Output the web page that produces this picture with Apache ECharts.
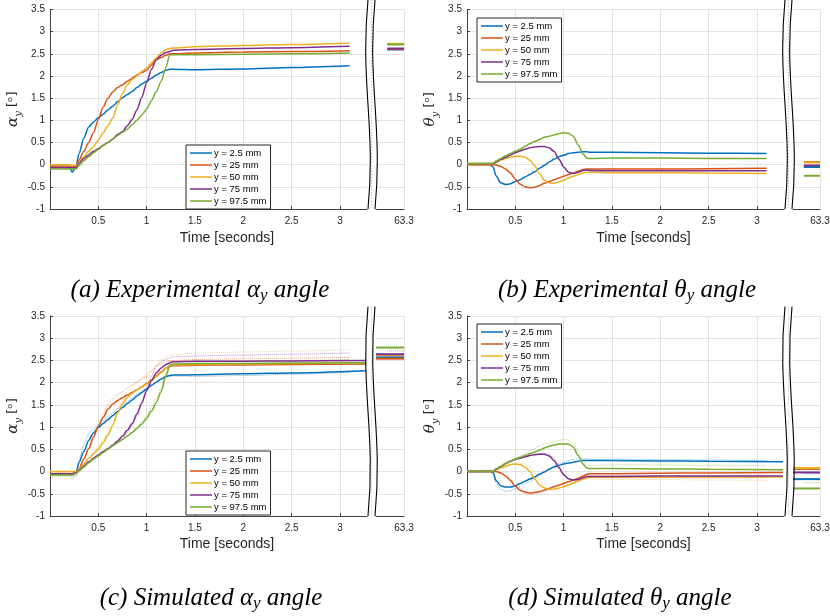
<!DOCTYPE html>
<html>
<head>
<meta charset="utf-8">
<script src="https://cdn.jsdelivr.net/npm/echarts@6/dist/echarts.min.js"></script>
<style>
  html, body { margin: 0; padding: 0; background: #fff; }
  #chart { width: 830px; height: 616px; }
</style>
</head>
<body>
<div id="chart"></div>
<script>
// line colours (MATLAB default order) and legend names
const COLORS = ['#0072BD', '#D95319', '#EDB120', '#7E2F8E', '#77AC30'];
const NAMES = ['y = 2.5 mm', 'y = 25 mm', 'y = 50 mm', 'y = 75 mm', 'y = 97.5 mm'];

// sample times [s]
const tExp = [0, 0.2, 0.23, 0.27, 0.3, 0.35, 0.4, 0.45, 0.5, 0.55, 0.6, 0.65, 0.7, 0.75, 0.8, 0.85, 0.9, 0.95, 1.0, 1.05, 1.1, 1.15, 1.2, 1.24, 1.27, 1.5, 2.0, 2.5, 3.1];
const tSim = [0, 0.2, 0.23, 0.27, 0.3, 0.35, 0.4, 0.45, 0.5, 0.55, 0.6, 0.65, 0.7, 0.75, 0.8, 0.85, 0.9, 0.95, 1.0, 1.05, 1.1, 1.15, 1.2, 1.24, 1.27, 1.5, 2.0, 2.5, 3.27];
// times of the part after the axis break
const tEndExp = [63.12, 63.3];
const tEndSim = [63.0, 63.3];

// (a) experimental alpha_y
const expAlpha2_5 = [-0.05, -0.06, -0.17, -0.02, 0.25, 0.6, 0.85, 0.96, 1.06, 1.14, 1.24, 1.32, 1.42, 1.51, 1.58, 1.65, 1.74, 1.82, 1.88, 1.95, 2.02, 2.08, 2.13, 2.15, 2.15, 2.14, 2.16, 2.19, 2.23];
const expAlpha25 = [-0.03, -0.03, -0.05, -0.03, 0.1, 0.3, 0.5, 0.72, 1.02, 1.3, 1.5, 1.64, 1.74, 1.8, 1.88, 1.95, 2.02, 2.08, 2.13, 2.25, 2.36, 2.42, 2.47, 2.5, 2.5, 2.52, 2.54, 2.55, 2.57];
const expAlpha50 = [0, 0, 0, -0.02, 0.05, 0.18, 0.3, 0.41, 0.55, 0.72, 0.88, 1.05, 1.35, 1.6, 1.8, 1.92, 2.0, 2.1, 2.18, 2.3, 2.41, 2.52, 2.6, 2.62, 2.63, 2.66, 2.69, 2.71, 2.74];
const expAlpha75 = [-0.07, -0.07, -0.07, -0.07, 0.03, 0.14, 0.22, 0.3, 0.36, 0.44, 0.5, 0.58, 0.68, 0.75, 0.88, 1.02, 1.24, 1.52, 1.85, 2.15, 2.37, 2.47, 2.53, 2.55, 2.58, 2.6, 2.62, 2.64, 2.67];
const expAlpha97_5 = [-0.1, -0.1, -0.1, -0.1, -0.02, 0.09, 0.18, 0.27, 0.34, 0.43, 0.5, 0.58, 0.66, 0.73, 0.8, 0.9, 1.0, 1.12, 1.25, 1.45, 1.65, 1.88, 2.2, 2.48, 2.48, 2.48, 2.49, 2.5, 2.52];
const expAlphaEnd = [2.60, 2.61, 2.73, 2.62, 2.71];

// (b) experimental theta_y
const expTheta2_5 = [0, 0, 0, -0.05, -0.25, -0.41, -0.45, -0.43, -0.38, -0.34, -0.28, -0.22, -0.16, -0.08, -0.02, 0.06, 0.12, 0.18, 0.21, 0.25, 0.27, 0.28, 0.29, 0.29, 0.28, 0.28, 0.27, 0.26, 0.25];
const expTheta25 = [0, 0, 0, 0, -0.01, -0.04, -0.1, -0.19, -0.33, -0.44, -0.5, -0.52, -0.51, -0.47, -0.42, -0.38, -0.34, -0.3, -0.26, -0.22, -0.19, -0.15, -0.11, -0.1, -0.1, -0.1, -0.1, -0.09, -0.08];
const expTheta50 = [0, 0, 0, 0.02, 0.05, 0.1, 0.14, 0.17, 0.19, 0.19, 0.17, 0.1, -0.02, -0.2, -0.35, -0.41, -0.42, -0.39, -0.35, -0.3, -0.26, -0.22, -0.19, -0.17, -0.17, -0.18, -0.18, -0.19, -0.2];
const expTheta75 = [0.02, 0.02, 0.02, 0.02, 0.06, 0.12, 0.17, 0.22, 0.27, 0.31, 0.35, 0.38, 0.4, 0.41, 0.41, 0.38, 0.3, 0.13, -0.05, -0.17, -0.2, -0.17, -0.13, -0.12, -0.13, -0.14, -0.14, -0.14, -0.14];
const expTheta97_5 = [0.03, 0.03, 0.03, 0.03, 0.08, 0.14, 0.2, 0.25, 0.3, 0.35, 0.41, 0.47, 0.52, 0.57, 0.62, 0.64, 0.67, 0.7, 0.72, 0.71, 0.64, 0.45, 0.24, 0.15, 0.14, 0.15, 0.15, 0.14, 0.14];
const expThetaEnd = [-0.05, 0.06, 0.05, -0.02, -0.25];

// (c) simulated alpha_y
const simAlpha2_5 = [-0.05, -0.05, -0.05, -0.02, 0.2, 0.45, 0.7, 0.87, 0.99, 1.08, 1.17, 1.26, 1.35, 1.44, 1.53, 1.61, 1.7, 1.78, 1.86, 1.94, 2.01, 2.08, 2.14, 2.16, 2.17, 2.18, 2.2, 2.22, 2.27];
const simAlpha25 = [-0.05, -0.05, -0.05, -0.03, 0.05, 0.28, 0.52, 0.78, 1.02, 1.22, 1.4, 1.52, 1.6, 1.66, 1.72, 1.78, 1.84, 1.91, 1.98, 2.06, 2.15, 2.24, 2.33, 2.37, 2.38, 2.39, 2.4, 2.41, 2.42];
const simAlpha50 = [0, 0, 0, 0, 0.05, 0.17, 0.3, 0.4, 0.5, 0.65, 0.82, 1.05, 1.32, 1.52, 1.67, 1.76, 1.84, 1.9, 1.97, 2.05, 2.14, 2.23, 2.32, 2.38, 2.4, 2.41, 2.42, 2.43, 2.45];
const simAlpha75 = [-0.05, -0.05, -0.05, -0.03, 0.03, 0.12, 0.22, 0.3, 0.37, 0.45, 0.52, 0.6, 0.69, 0.8, 0.93, 1.08, 1.3, 1.55, 1.82, 2.05, 2.22, 2.33, 2.41, 2.45, 2.47, 2.48, 2.48, 2.49, 2.5];
const simAlpha97_5 = [-0.08, -0.08, -0.08, -0.04, 0.02, 0.1, 0.2, 0.28, 0.35, 0.43, 0.5, 0.58, 0.65, 0.72, 0.8, 0.88, 0.97, 1.07, 1.2, 1.36, 1.55, 1.8, 2.15, 2.4, 2.42, 2.43, 2.43, 2.44, 2.45];
const simAlphaEnd = [2.57, 2.54, 2.62, 2.64, 2.79];

// (d) simulated theta_y
const simTheta2_5 = [0, 0, 0.02, -0.02, -0.2, -0.32, -0.35, -0.35, -0.32, -0.27, -0.22, -0.17, -0.12, -0.06, -0.01, 0.05, 0.1, 0.14, 0.17, 0.19, 0.21, 0.23, 0.25, 0.25, 0.25, 0.25, 0.24, 0.23, 0.22];
const simTheta25 = [0, 0, 0, 0, 0, -0.03, -0.1, -0.2, -0.33, -0.42, -0.46, -0.48, -0.47, -0.45, -0.42, -0.38, -0.34, -0.31, -0.27, -0.23, -0.19, -0.15, -0.1, -0.06, -0.05, -0.05, -0.04, -0.03, -0.02];
const simTheta50 = [0, 0, 0, 0, 0.04, 0.08, 0.12, 0.16, 0.17, 0.16, 0.1, 0, -0.16, -0.3, -0.37, -0.4, -0.39, -0.37, -0.34, -0.3, -0.26, -0.21, -0.17, -0.14, -0.13, -0.13, -0.13, -0.12, -0.12];
const simTheta75 = [0, 0, 0, 0, 0.05, 0.11, 0.18, 0.23, 0.27, 0.3, 0.33, 0.36, 0.38, 0.39, 0.39, 0.35, 0.25, 0.09, -0.07, -0.16, -0.19, -0.18, -0.14, -0.11, -0.11, -0.11, -0.1, -0.1, -0.1];
const simTheta97_5 = [0, 0, 0, 0, 0.05, 0.11, 0.18, 0.23, 0.28, 0.32, 0.36, 0.4, 0.44, 0.48, 0.53, 0.57, 0.6, 0.62, 0.62, 0.62, 0.55, 0.36, 0.17, 0.08, 0.07, 0.07, 0.06, 0.05, 0.04];
const simThetaEnd = [-0.17, 0.06, 0.08, -0.02, -0.38];

const expAlpha = [expAlpha2_5, expAlpha25, expAlpha50, expAlpha75, expAlpha97_5];
const expTheta = [expTheta2_5, expTheta25, expTheta50, expTheta75, expTheta97_5];
const simAlpha = [simAlpha2_5, simAlpha25, simAlpha50, simAlpha75, simAlpha97_5];
const simTheta = [simTheta2_5, simTheta25, simTheta50, simTheta75, simTheta97_5];

const FONT = 'Liberation Sans, Arial, sans-serif';
const AXIS_COLOR = '#404040';
const GRID_COLOR = '#e2e2e2';

const panels = [
  { left: 50, top: 9.5, h: 199.5, bw: 28, sym: 'α', t: tExp, main: expAlpha, tEnd: tEndExp, end: expAlphaEnd,
    legend: [186, 145], caption: '(a) Experimental ', capX: 200, capY: 290, xTitleY: 238 },
  { left: 467, top: 9.5, h: 199.5, bw: 27, sym: 'θ', t: tExp, main: expTheta, tEnd: tEndExp, end: expThetaEnd,
    legend: [477, 18], caption: '(b) Experimental ', capX: 627, capY: 290, xTitleY: 238 },
  { left: 50, top: 316, h: 200, bw: 28, sym: 'α', t: tSim, main: simAlpha, tEnd: tEndSim, end: simAlphaEnd,
    ghost: expAlpha, ghostEnd: expAlphaEnd,
    legend: [186, 451], caption: '(c) Simulated ', capX: 211, capY: 598, xTitleY: 544 },
  { left: 467, top: 316, h: 200, bw: 27, sym: 'θ', t: tSim, main: simTheta, tEnd: tEndSim, end: simThetaEnd,
    ghost: expTheta, ghostEnd: expThetaEnd,
    legend: [477, 324], caption: '(d) Simulated ', capX: 620, capY: 598, xTitleY: 544 }
];

const grid = [], xAxis = [], yAxis = [], series = [], legend = [], graphic = [];

function yAxisBase(idx, showLabels, p) {
  return {
    type: 'value', gridIndex: idx, min: -1, max: 3.5, interval: 0.5,
    axisLine: { show: showLabels, onZero: false, lineStyle: { color: AXIS_COLOR, width: 1 } },
    axisTick: { show: showLabels, inside: true, length: 3, lineStyle: { color: AXIS_COLOR } },
    axisLabel: { show: showLabels, fontFamily: FONT, fontSize: 10, color: '#262626', margin: 5 },
    splitLine: { show: true, lineStyle: { color: GRID_COLOR, width: 1 } },
    name: showLabels ? '{g|' + p.sym + '}{s|y}{n| [ᵒ]}' : '',
    nameLocation: 'middle', nameGap: 26, nameRotate: 90,
    nameTextStyle: {
      color: '#262626',
      rich: {
        g: { fontFamily: 'DejaVu Serif', fontStyle: 'italic', fontSize: 15, lineHeight: 22, color: '#262626' },
        s: { fontFamily: 'DejaVu Serif', fontStyle: 'italic', fontSize: 10, lineHeight: 12, verticalAlign: 'bottom', color: '#262626' },
        n: { fontFamily: 'DejaVu Sans', fontSize: 13, lineHeight: 22, color: '#262626' }
      }
    }
  };
}

function lineSeries(name, axis, xs, ys, color, extra) {
  return Object.assign({
    type: 'line', name: name, xAxisIndex: axis, yAxisIndex: axis,
    data: xs.map((x, k) => [x, ys[k]]),
    symbol: 'none', showSymbol: false, smooth: 0.25, smoothMonotone: 'x',
    lineStyle: { color: color, width: 1.5 }, itemStyle: { color: color },
    animation: false
  }, extra || {});
}

panels.forEach((p, pi) => {
  const mi = pi * 2, bi = pi * 2 + 1;
  const mainW = 317;
  const bLeft = p.left + 326;
  grid.push({ left: p.left, top: p.top, width: mainW, height: p.h, outerBoundsMode: 'none' });
  grid.push({ left: bLeft, top: p.top, width: p.bw, height: p.h, outerBoundsMode: 'none' });

  xAxis.push({
    type: 'value', gridIndex: mi, min: 0, max: 3.28, interval: 0.5,
    axisLine: { onZero: false, lineStyle: { color: AXIS_COLOR, width: 1 } },
    axisTick: { inside: true, length: 3, lineStyle: { color: AXIS_COLOR } },
    axisLabel: { fontFamily: FONT, fontSize: 10, color: '#262626', margin: 7, showMinLabel: false, showMaxLabel: false },
    splitLine: { show: true, showMinLine: false, showMaxLine: false, lineStyle: { color: GRID_COLOR, width: 1 } }
  });
  xAxis.push({
    type: 'value', gridIndex: bi, min: 63.0, max: 63.3, interval: 0.3,
    axisLine: { onZero: false, lineStyle: { color: AXIS_COLOR, width: 1 } },
    axisTick: { show: false },
    axisLabel: { fontFamily: FONT, fontSize: 10, color: '#262626', margin: 7, showMinLabel: false, formatter: v => v.toFixed(1) },
    splitLine: { show: true, showMinLine: false, lineStyle: { color: GRID_COLOR, width: 1 } }
  });
  yAxis.push(yAxisBase(mi, true, p));
  yAxis.push(yAxisBase(bi, false, p));

  // faint experimental traces behind the simulated ones
  if (p.ghost) {
    p.ghost.forEach((ys, i) => {
      const ghostStyle = { color: COLORS[i], width: 1, type: 'dotted', opacity: 0.55 };
      series.push(lineSeries('exp ' + NAMES[i], mi, tExp, ys, COLORS[i], { lineStyle: ghostStyle, z: 1 }));
      series.push(lineSeries('exp ' + NAMES[i], bi, tEndExp, [p.ghostEnd[i], p.ghostEnd[i]], COLORS[i], { lineStyle: ghostStyle, z: 1 }));
    });
  }
  p.main.forEach((ys, i) => {
    series.push(lineSeries(NAMES[i], mi, p.t, ys, COLORS[i], { z: 2 }));
    series.push(lineSeries(NAMES[i], bi, p.tEnd, [p.end[i], p.end[i]], COLORS[i], { z: 2, lineStyle: { color: COLORS[i], width: 2 } }));
  });

  legend.push({
    data: NAMES, orient: 'vertical', left: p.legend[0], top: p.legend[1],
    selectedMode: false, icon: 'rect', itemWidth: 22, itemHeight: 1.5, itemGap: 2,
    padding: [3, 4, 3, 4], backgroundColor: '#fff', borderColor: '#262626', borderWidth: 1, borderRadius: 0,
    textStyle: { fontFamily: FONT, fontSize: 9.5, lineHeight: 10, color: '#000', padding: [0, 0, 0, -3] }
  });

  // axis break marks
  const xL = p.left + mainW + 1, xR = bLeft - 1;
  const yTop = p.top - 9.5, yBot = p.top + p.h;
  graphic.push({
    type: 'line', silent: true, z: 10,
    shape: { x1: (xL + xR) / 2, y1: yTop, x2: (xL + xR) / 2, y2: yBot },
    style: { stroke: '#bbbbbb', lineWidth: 1, lineDash: [1, 2] }
  });
  [xL, xR].forEach(x => {
    graphic.push({
      type: 'bezierCurve', silent: true, z: 10,
      shape: { x1: x, y1: yTop, cpx1: x - 8, cpy1: yTop + (yBot - yTop) * 0.4, cpx2: x + 8, cpy2: yTop + (yBot - yTop) * 0.6, x2: x, y2: yBot },
      style: { stroke: '#000', lineWidth: 1.1, fill: null }
    });
  });

  // x-axis title, centred under the full axes
  graphic.push({
    type: 'text', silent: true, x: (p.left + bLeft + p.bw) / 2, y: p.xTitleY,
    style: { text: 'Time [seconds]', font: '14px ' + FONT, fill: '#262626', align: 'center', verticalAlign: 'middle' }
  });

  // sub-figure caption
  graphic.push({
    type: 'text', silent: true, x: p.capX, y: p.capY,
    style: {
      text: '{t|' + p.caption + p.sym + '}{s|y}{t| angle}',
      align: 'center', verticalAlign: 'middle',
      rich: {
        t: { fontFamily: 'Liberation Serif', fontStyle: 'italic', fontSize: 25, lineHeight: 28, fill: '#000' },
        s: { fontFamily: 'Liberation Serif', fontStyle: 'italic', fontSize: 17, lineHeight: 15, verticalAlign: 'bottom', fill: '#000' }
      }
    }
  });
});

const chart = echarts.init(document.getElementById('chart'), null, { renderer: 'canvas' });
chart.setOption({
  backgroundColor: '#fff',
  animation: false,
  grid, xAxis, yAxis, series, legend,
  graphic: { elements: graphic }
});
</script>
</body>
</html>
